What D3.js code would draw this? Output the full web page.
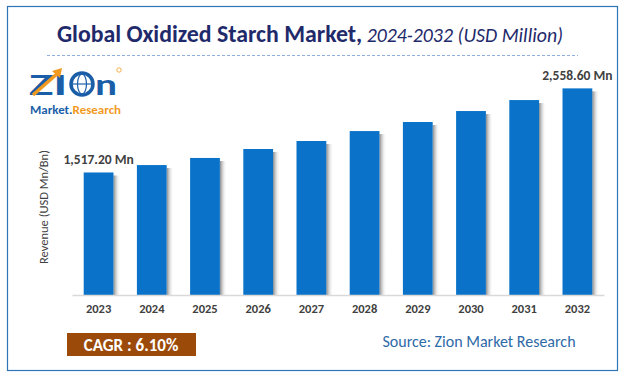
<!DOCTYPE html>
<html>
<head>
<meta charset="utf-8">
<script src="https://cdn.jsdelivr.net/npm/d3@7"></script>
<style>
  body { margin: 0; background: #fff; }
  text { font-family: Calibri, Carlito, "Open Sans", sans-serif; }
</style>
</head>
<body>
<div id="chart"></div>
<script>
// chart data
let years = ["2023", "2024", "2025", "2026", "2027", "2028", "2029", "2030", "2031", "2032"];
let revenue = [1517.2, 1609, 1697, 1808, 1907, 2030, 2142, 2278, 2414, 2558.6];
let labelled = {"2023": "1,517.20 Mn", "2032": "2,558.60 Mn"};

let svgWidth = 624, svgHeight = 379;
let margin = {top: 60, right: 20, bottom: 84, left: 72};
let width = svgWidth - margin.left - margin.right;
let height = svgHeight - margin.top - margin.bottom;

let svg = d3.select("#chart").append("svg")
  .attr("width", svgWidth)
  .attr("height", svgHeight);

// shadow gradient to the right of each bar
let defs = svg.append("defs");
let grad = defs.append("linearGradient").attr("id", "shade");
grad.append("stop").attr("offset", "0%").attr("stop-color", "#7a7a7a").attr("stop-opacity", 0.9);
grad.append("stop").attr("offset", "100%").attr("stop-color", "#ffffff").attr("stop-opacity", 0);

// outer frame
svg.append("rect")
  .attr("x", 7.5).attr("y", 6.5)
  .attr("width", 610).attr("height", 364)
  .attr("fill", "none")
  .attr("stroke", "#2e75b6")
  .attr("stroke-width", 1.2);

// title
let title = svg.append("text")
  .attr("x", 310).attr("y", 42)
  .attr("text-anchor", "middle");
title.append("tspan")
  .attr("font-size", 23.8).attr("font-weight", "bold").attr("fill", "#1f2a6b")
  .text("Global Oxidized Starch Market,");
title.append("tspan")
  .attr("font-size", 19.8).attr("font-style", "italic").attr("fill", "#1f2a6b")
  .text(" 2024-2032 (USD Million)");

svg.append("line")
  .attr("x1", 47).attr("x2", 578)
  .attr("y1", 55.5).attr("y2", 55.5)
  .attr("stroke", "#8fb0dc")
  .attr("stroke-dasharray", "3,2");

// logo (rough approximation)
let logo = svg.append("g");
logo.append("text")
  .attr("x", 29).attr("y", 95)
  .attr("font-size", 30).attr("font-weight", "bold")
  .attr("font-family", "Arial, 'Liberation Sans', sans-serif")
  .attr("textLength", 38).attr("lengthAdjust", "spacingAndGlyphs")
  .attr("fill", "#1b5ea8")
  .text("ZI");
logo.append("circle")
  .attr("cx", 82).attr("cy", 84).attr("r", 11)
  .attr("fill", "none").attr("stroke", "#1b5ea8").attr("stroke-width", 3.5);
logo.append("ellipse")
  .attr("cx", 82).attr("cy", 84).attr("rx", 4.5).attr("ry", 10)
  .attr("fill", "none").attr("stroke", "#1b5ea8").attr("stroke-width", 1.2);
logo.append("line")
  .attr("x1", 71).attr("x2", 93).attr("y1", 84).attr("y2", 84)
  .attr("stroke", "#1b5ea8").attr("stroke-width", 1.2);
logo.append("text")
  .attr("x", 95).attr("y", 95)
  .attr("font-size", 30).attr("font-weight", "bold")
  .attr("font-family", "Arial, 'Liberation Sans', sans-serif")
  .attr("textLength", 22).attr("lengthAdjust", "spacingAndGlyphs")
  .attr("fill", "#1b5ea8")
  .text("n");
logo.append("path")
  .attr("d", "M33,95 L58,73")
  .attr("stroke", "#f29a1f").attr("stroke-width", 3.5);
logo.append("path")
  .attr("d", "M52,71 L62,68 L60,78 Z")
  .attr("fill", "#f29a1f");
let logoTxt = logo.append("text")
  .attr("x", 30).attr("y", 114)
  .attr("font-size", 11).attr("font-weight", "bold")
  .attr("textLength", 91).attr("lengthAdjust", "spacingAndGlyphs");
logoTxt.append("tspan").attr("fill", "#1b5ea8").text("Market.");
logoTxt.append("tspan").attr("fill", "#f29a1f").text("Research");
logo.append("circle")
  .attr("cx", 119).attr("cy", 70).attr("r", 2.2)
  .attr("fill", "none").attr("stroke", "#f29a1f").attr("stroke-width", 0.8);

let chartGroup = svg.append("g")
  .attr("transform", `translate(${margin.left}, ${margin.top})`);

let xScale = d3.scaleBand()
  .domain(years)
  .range([0, width])
  .paddingInner(0.44)
  .paddingOuter(0.22);

let yScale = d3.scaleLinear()
  .domain([0, 2910])
  .range([height, 0]);

// shadows
chartGroup.selectAll(".shadow")
  .data(years)
  .enter()
  .append("rect")
  .attr("class", "shadow")
  .attr("x", d => xScale(d) + xScale.bandwidth())
  .attr("y", (d, i) => yScale(revenue[i]) + 3)
  .attr("width", 7)
  .attr("height", (d, i) => height - yScale(revenue[i]) - 3)
  .attr("fill", "url(#shade)");

// bars
chartGroup.selectAll(".bar")
  .data(years)
  .enter()
  .append("rect")
  .attr("class", "bar")
  .attr("x", d => xScale(d))
  .attr("y", (d, i) => yScale(revenue[i]))
  .attr("width", xScale.bandwidth())
  .attr("height", (d, i) => height - yScale(revenue[i]))
  .attr("fill", "#0a73c9");

// value labels on first and last bars
chartGroup.selectAll(".val")
  .data(years.filter(d => labelled[d]))
  .enter()
  .append("text")
  .attr("class", "val")
  .attr("x", d => xScale(d) + xScale.bandwidth() / 2)
  .attr("y", d => yScale(revenue[years.indexOf(d)]) - 8)
  .attr("text-anchor", "middle")
  .attr("font-size", 13.5).attr("font-weight", "bold")
  .attr("fill", "#404040")
  .text(d => labelled[d]);

// x axis
let xAxis = chartGroup.append("g")
  .attr("transform", `translate(0,${height})`)
  .call(d3.axisBottom(xScale).tickSize(0).tickPadding(9));
xAxis.select(".domain").attr("stroke", "#d9d9d9").attr("stroke-width", 1.5);
xAxis.selectAll("text")
  .attr("font-size", 12.5).attr("font-weight", "bold")
  .attr("font-family", "Calibri, Carlito, 'Open Sans', sans-serif")
  .attr("fill", "#404040");

// y axis label
svg.append("text")
  .attr("transform", "translate(48,207) rotate(-90)")
  .attr("text-anchor", "middle")
  .attr("font-size", 12.5)
  .attr("fill", "#404040")
  .text("Revenue (USD Mn/Bn)");

// CAGR box
svg.append("rect")
  .attr("x", 67).attr("y", 333)
  .attr("width", 129).attr("height", 23)
  .attr("fill", "#9c4a0a");
svg.append("text")
  .attr("x", 131).attr("y", 351)
  .attr("text-anchor", "middle")
  .attr("font-size", 17).attr("font-weight", "bold")
  .attr("fill", "#ffffff")
  .text("CAGR :  6.10%");

// source
svg.append("text")
  .attr("x", 479).attr("y", 347)
  .attr("text-anchor", "middle")
  .attr("font-size", 16)
  .attr("fill", "#2e6aa8")
  .text("Source: Zion Market Research");
</script>
</body>
</html>
